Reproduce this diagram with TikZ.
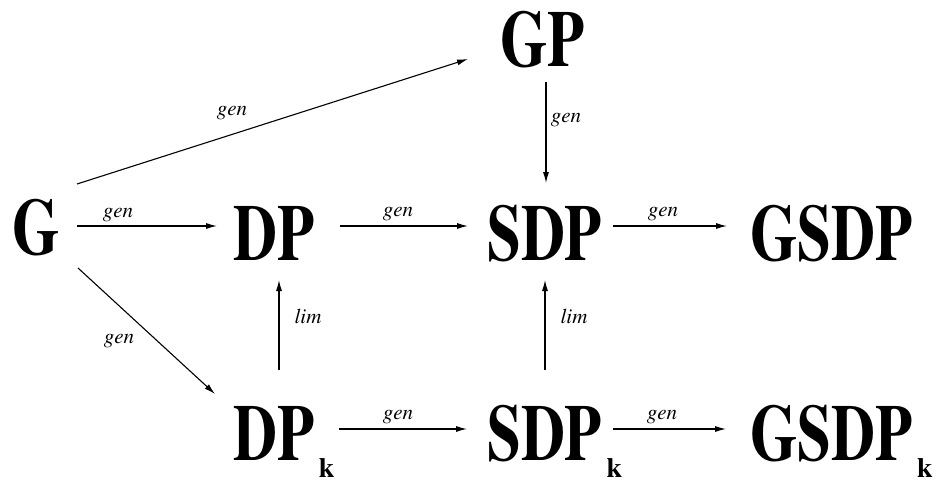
\documentclass[tikz,border=0pt]{standalone}
\usepackage[T1]{fontenc}
\usepackage{graphicx}
\usetikzlibrary{arrows.meta}
\newcommand{\tms}{\fontencoding{T1}\fontfamily{ptm}\selectfont}
\begin{document}
\begin{tikzpicture}[x=1pt,y=-1pt,
  big/.style={font=\tms\bfseries\fontsize{80}{80}\selectfont, inner sep=0pt, anchor=base west},
  lab/.style={font=\tms\itshape\fontsize{21}{21}\selectfont, inner sep=0pt},
  arr/.style={-{Latex[length=11pt,width=6pt]}, line width=1.1pt}]
\useasboundingbox (0,0) rectangle (949,481);
\newcommand{\subk}{\raisebox{-17pt}{\tms\bfseries\fontsize{28}{28}\selectfont\,k}}
\newcommand{\cnd}[1]{\scalebox{0.76}[1]{#1}}
% nodes
\node[big] (GP) at (500,67) {\cnd{GP}};
\node[big] (G) at (12,254) {\cnd{G}};
\node[big] (DP) at (233,260) {\cnd{DP}};
\node[big] (SDP) at (487,260) {\cnd{SDP}};
\node[big] (GSDP) at (750,260) {\cnd{GSDP}};
\node[big] (DPk) at (233,460) {\cnd{DP}\subk};
\node[big] (SDPk) at (487,460) {\cnd{SDP}\subk};
\node[big] (GSDPk) at (750,460) {\cnd{GSDP}\subk};
% connectors
\draw[arr] ([shift={(65,-28)}]G.base west) -- ([shift={(-16,-34)}]DP.base west);
\draw[arr] ([shift={(65,-70)}]G.base west) -- ([shift={(-32,-8)}]GP.base west);
\draw[arr] ([shift={(66,14)}]G.base west) -- ([shift={(-18,-66)}]DPk.base west);
\draw[arr] ([shift={(107,-34)}]DP.base west) -- ([shift={(-19,-34)}]SDP.base west);
\draw[arr] ([shift={(126,-34)}]SDP.base west) -- ([shift={(-23,-34)}]GSDP.base west);
\draw[arr] ([shift={(46,15)}]GP.base west) -- ([shift={(59,-77)}]SDP.base west);
\draw[arr] ([shift={(46,-90)}]DPk.base west) -- ([shift={(46,20)}]DP.base west);
\draw[arr] ([shift={(58,-90)}]SDPk.base west) -- ([shift={(58,20)}]SDP.base west);
\draw[arr] ([shift={(106,-31)}]DPk.base west) -- ([shift={(-20,-31)}]SDPk.base west);
\draw[arr] ([shift={(126,-31)}]SDPk.base west) -- ([shift={(-24,-31)}]GSDPk.base west);
% labels
\node[lab] (l1) at (118,215) {gen};
\node[lab] (l2) at (232,113) {gen};
\node[lab] (l3) at (119,341) {gen};
\node[lab] (l4) at (398,214) {gen};
\node[lab] (l5) at (663,214) {gen};
\node[lab] (l6) at (566,120) {gen};
\node[lab] (l7) at (308,317) {lim};
\node[lab] (l8) at (574,317) {lim};
\node[lab] (l9) at (398,417) {gen};
\node[lab] (l10) at (662,417) {gen};
\end{tikzpicture}
\end{document}
